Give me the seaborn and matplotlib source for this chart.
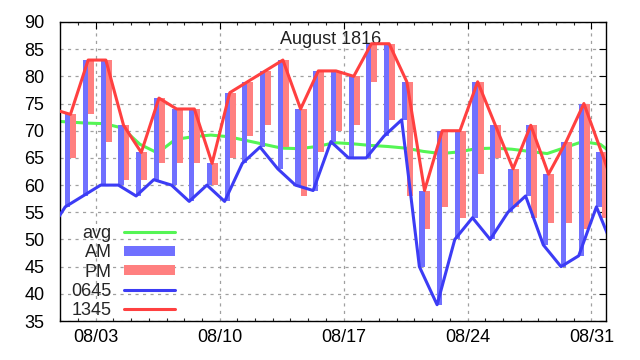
import numpy as np
import pandas as pd
import matplotlib
matplotlib.use("Agg")
import matplotlib.pyplot as plt
import matplotlib.dates as mdates
from matplotlib.lines import Line2D
from matplotlib.patches import Patch
import seaborn as sns

# daily readings, August 1816 (deg F)
days = pd.date_range("1816-08-01", periods=31, freq="D")
t0645 = [56, 58, 60, 60, 58, 61, 60, 57, 60, 57, 64, 67, 63, 60, 59, 68,
         65, 65, 69, 72, 45, 38, 50, 54, 50, 55, 58, 49, 45, 47, 56]
t1345 = [73, 83, 83, 71, 66, 76, 74, 74, 64, 77, 79, 81, 83, 74, 81, 81,
         80, 86, 86, 79, 59, 70, 70, 79, 71, 63, 71, 62, 68, 75, 66]
t_eve = [65, 73, 68, 61, 61, 64, 64, 64, 60, 65, 69, 71, 67, 58, 66, 70,
         71, 79, 72, 58, 52, 56, 54, 62, 65, 56, 54, 53, 53, 52, 54]
avg = [71.6, 71.4, 71.3, 70.5, 67.5, 65.9, 68.4, 68.9, 69.2, 68.9, 68.2,
       67.5, 66.8, 66.7, 67.1, 67.8, 67.6, 67.3, 67.1, 66.8, 66.2, 65.8,
       66.1, 66.7, 66.8, 66.6, 66.2, 65.8, 66.9, 68.0, 67.5]

# neighbouring days (Jul 31 / Sep 1), only so the lines run off the edges
t0645_edge = [51, 48]
t1345_edge = [74, 57]
avg_edge = [71.8, 65.0]

ext_days = pd.DatetimeIndex([days[0] - pd.Timedelta(days=1)]).append(days).append(
    pd.DatetimeIndex([days[-1] + pd.Timedelta(days=1)]))

c_avg = "#55f555"
c_am = "#7070ff"
c_pm = "#ff8080"
c_0645 = "#3c3cf5"
c_1345 = "#ff4040"

sns.set_style("white")
plt.rcParams["font.family"] = ["Liberation Sans", "DejaVu Sans"]

fig = plt.figure(figsize=(6.4, 3.6), dpi=100)
ax = fig.add_axes([0.0942, 0.1083, 0.853, 0.8306])

x_am = mdates.date2num(ext_days + pd.Timedelta(hours=6, minutes=45))
x_pm = mdates.date2num(ext_days + pd.Timedelta(hours=13, minutes=45))
x_avg = mdates.date2num(ext_days + pd.Timedelta(hours=12))

y_am = [t0645_edge[0]] + t0645 + [t0645_edge[1]]
y_pm = [t1345_edge[0]] + t1345 + [t1345_edge[1]]
y_avg = [avg_edge[0]] + avg + [avg_edge[1]]

lw = 2.2
sns.lineplot(x=x_avg, y=y_avg, ax=ax, color=c_avg, linewidth=lw, zorder=2)

am_lo = np.minimum(t0645, t1345)
am_hi = np.maximum(t0645, t1345)
pm_lo = np.minimum(t1345, t_eve)
pm_hi = np.maximum(t1345, t_eve)
ax.bar(x_am[1:-1], am_hi - am_lo, bottom=am_lo, width=7 / 24, align="edge",
       color=c_am, linewidth=0, zorder=3)
ax.bar(x_pm[1:-1], pm_hi - pm_lo, bottom=pm_lo, width=8 / 24, align="edge",
       color=c_pm, linewidth=0, zorder=3)

sns.lineplot(x=x_am, y=y_am, ax=ax, color=c_0645, linewidth=lw, zorder=4)
sns.lineplot(x=x_pm, y=y_pm, ax=ax, color=c_1345, linewidth=lw, zorder=4)

ax.set_xlim(mdates.date2num(pd.Timestamp("1816-08-01")),
            mdates.date2num(pd.Timestamp("1816-08-31 20:00")))
ax.set_ylim(35, 90)
ax.set_yticks(range(35, 91, 5))
ax.xaxis.set_major_locator(mdates.DayLocator(bymonthday=[3, 10, 17, 24, 31]))
ax.xaxis.set_minor_locator(mdates.DayLocator())
ax.xaxis.set_major_formatter(mdates.DateFormatter("%m/%d"))
ax.set_xlabel("")
ax.set_ylabel("")

ax.set_axisbelow(True)
ax.grid(True, which="major", color="#a0a0a0", linestyle=(0, (2.5, 3.5)), linewidth=0.9)
ax.tick_params(axis="both", which="major", direction="in", length=5, width=0.8,
               top=True, right=True, labelsize=13, colors="black")
ax.tick_params(axis="x", which="major", pad=5.5)
ax.tick_params(axis="y", which="major", pad=11.5)
ax.tick_params(axis="x", which="minor", direction="in", length=2.5, width=0.8,
               top=True, bottom=True)
for s in ax.spines.values():
    s.set_color("black")
    s.set_linewidth(1.0)

ax.text(0.496, 0.943, "August 1816", transform=ax.transAxes, ha="center",
        va="center", fontsize=13, color="#202020")

handles = [
    Line2D([], [], color=c_avg, lw=lw),
    Patch(facecolor=c_am, edgecolor="none"),
    Patch(facecolor=c_pm, edgecolor="none"),
    Line2D([], [], color=c_0645, lw=lw),
    Line2D([], [], color=c_1345, lw=lw),
]
labels = ["avg", "AM", "PM", "0645", "1345"]
ax.legend(handles, labels, loc="lower right", bbox_to_anchor=(0.21, 0.006),
          frameon=False, markerfirst=False, handlelength=2.8, handleheight=0.5,
          handletextpad=0.7, labelspacing=0.13, borderpad=0, borderaxespad=0,
          fontsize=13)

fig.savefig("out.png", dpi=100)
